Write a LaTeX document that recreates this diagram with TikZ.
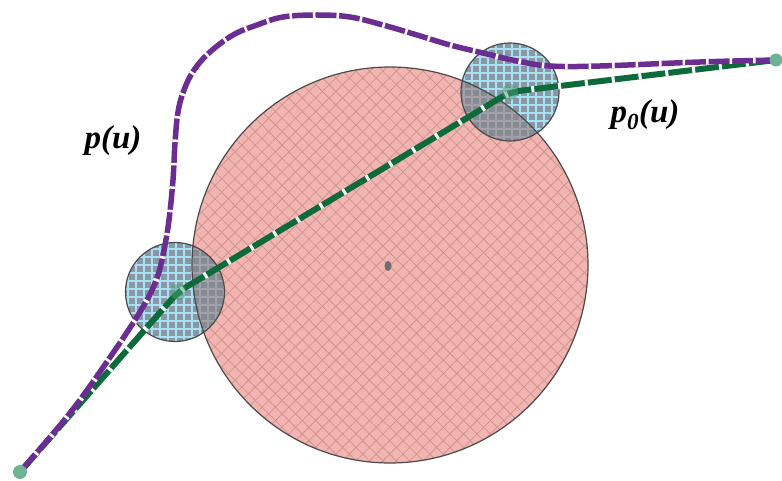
\documentclass[tikz,border=0pt]{standalone}
\usepackage{fontspec}
\setmainfont{Liberation Serif}
\usetikzlibrary{patterns.meta}
\definecolor{pinkbase}{HTML}{F3B5B2}
\definecolor{pinkline}{HTML}{CF9491}
\definecolor{bluebase}{HTML}{8A97A4}
\definecolor{blueline}{HTML}{A9E1F3}
\definecolor{ovbase}{HTML}{858A93}
\definecolor{ovline}{HTML}{A3A1A8}
\definecolor{outline}{HTML}{4A4A4A}
\definecolor{purp}{HTML}{6B2D92}
\definecolor{dgreen}{HTML}{0D6B3B}
\definecolor{dotgreen}{HTML}{6DB394}
\tikzset{
  bigdisc/.style={fill=pinkbase, postaction={pattern={Hatch[angle=45,distance=9.5pt,line width=0.8pt]}, pattern color=pinkline}},
  smalldisc/.style={fill=bluebase, postaction={pattern={Hatch[angle=0,distance=8pt,line width=2.6pt]}, pattern color=blueline}},
  ovdisc/.style={fill=ovbase, postaction={pattern={Hatch[angle=0,distance=8pt,line width=2.6pt]}, pattern color=ovline}},
  rim/.style={draw=outline, line width=1.2pt},
  purpsolid/.style={draw=purp, line width=5.5pt, line cap=butt},
  purpgap/.style={draw=white, line width=5.8pt, dash pattern=on 2.5pt off 21pt, line cap=butt},
  greensolid/.style={draw=dgreen, line width=6pt, line cap=butt, rounded corners=10pt},
  greengap/.style={draw=white, line width=6.3pt, dash pattern=on 3pt off 24pt, line cap=butt, rounded corners=10pt},
  enddot/.style={fill=dotgreen, draw=none},
  vertexmark/.style={fill=dotgreen!70!dgreen, fill opacity=0.5, draw=none},
  lab/.style={font=\fontsize{33}{36}\selectfont\bfseries\itshape, inner sep=0pt}
}
\begin{document}
\begin{tikzpicture}[x=1pt,y=-1pt]
\useasboundingbox (0,0) rectangle (782,481);
% circles
\coordinate (O) at (390,265);
\coordinate (A) at (175,292);
\coordinate (B) at (510,92);
\path[bigdisc] (O) circle[radius=198pt];
\path[smalldisc] (A) circle[radius=49.5pt];
\path[smalldisc] (B) circle[radius=49pt];
\begin{scope}
  \clip (O) circle[radius=198pt];
  \path[ovdisc] (A) circle[radius=49.5pt];
  \path[ovdisc] (B) circle[radius=49pt];
\end{scope}
\draw[rim] (O) circle[radius=198pt];
\draw[rim] (A) circle[radius=49.5pt];
\draw[rim] (B) circle[radius=49pt];
% centre mark
\fill[outline!80] (388,266) ellipse[x radius=3.5pt, y radius=5pt];
% end points
\coordinate (S) at (20,472);
\coordinate (E) at (776,60);
\coordinate (V1) at (178,292);
\coordinate (V2) at (510,92);
% green polygon
\draw[greensolid] (S) -- (V1) -- (V2) -- (E);
\draw[greengap] (S) -- (V1) -- (V2) -- (E);
\fill[vertexmark] (V1) circle[radius=8pt];
\fill[vertexmark] (V2) circle[radius=8pt];
% purple curve
\def\purpcurve{plot[smooth, tension=0.6] coordinates {(20,472) (70,413) (113,353) (143,307) (157,278) (164,250) (169,220) (173,180) (175,143) (178,112) (184,90) (194,70) (210,52) (233,35) (257,25) (283,17) (317,15) (350,17) (383,25) (417,35) (450,45) (483,53) (517,61) (550,66) (600,66) (700,62) (776,60)}}
\draw[purpsolid] \purpcurve;
\draw[purpgap] \purpcurve;
\fill[enddot] (S) circle[radius=7pt];
\fill[enddot] (E) circle[radius=6.5pt];
% labels
\node[lab] (pu) at (113,141) {p(u)};
\node[lab] (p0u) at (645,115) {p\textsubscript{0}(u)};
\end{tikzpicture}
\end{document}
